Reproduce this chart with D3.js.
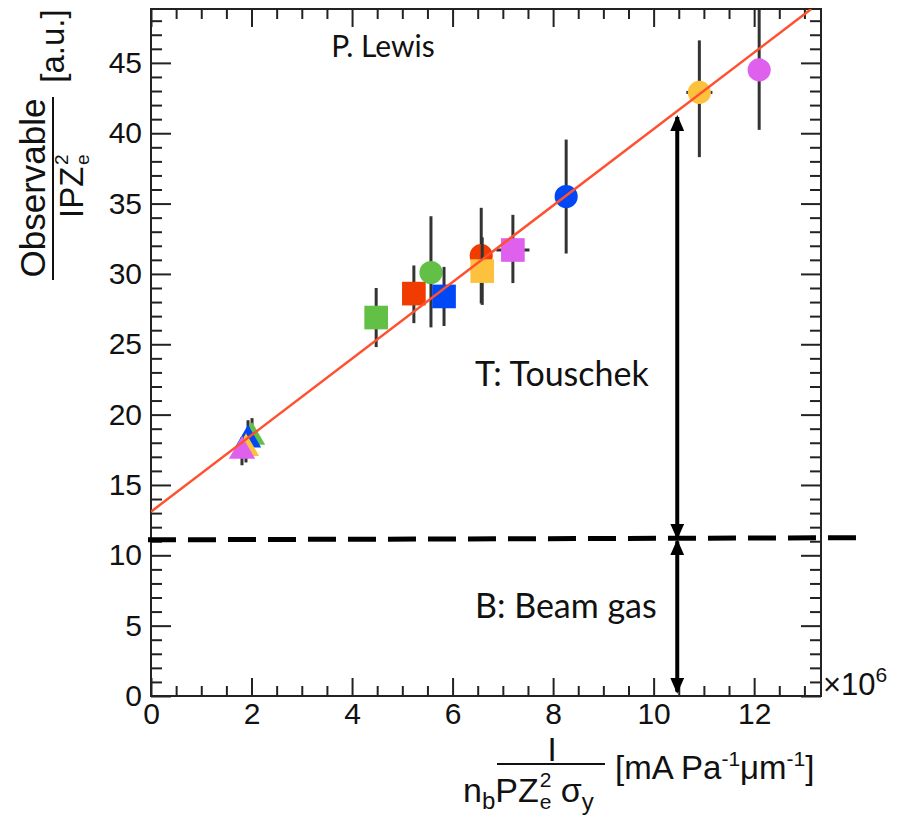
<!DOCTYPE html>
<html>
  <head>
    <title>Observable vs I / (nb P Ze^2 sigma_y)</title>
    <script src="https://d3js.org/d3.v7.min.js" charset="utf-8"></script>
    <style type="text/css">
      body { margin: 0; background: #fff; }
      .tick text { font-family: "Liberation Sans", Arial, sans-serif; font-size: 30px; fill: #111; }
      .axis path { display: none; }
      .axis line { stroke: #222; stroke-width: 2; }
      .note { font-family: Lato, "Open Sans", sans-serif; font-size: 34px; fill: #111; }
      .title { font-family: "Liberation Sans", Arial, sans-serif; fill: #111; }
    </style>
  </head>

  <body>
    <script type="text/javascript">

    // Data points (x in units of 1e6)
    var pointX     = [4.48, 5.23, 5.57, 5.83, 6.57, 6.59, 7.20, 8.26, 10.91, 12.10, 2.01, 1.93, 1.89, 1.81];
    var pointY     = [26.9, 28.6, 30.1, 28.4, 31.3, 30.2, 31.7, 35.5, 42.9, 44.5, 18.4, 18.2, 17.6, 17.4];
    var pointErrUp = [2.1, 2.0, 4.0, 2.1, 3.4, 2.4, 2.5, 4.05, 3.7, 4.26, 1.35, 1.4, 1.0, 1.0];
    var pointErrDn = [2.1, 2.1, 3.9, 2.1, 3.4, 2.4, 2.35, 4.05, 4.6, 4.26, 1.2, 1.2, 1.0, 1.0];
    var pointXErr  = [0, 0, 0, 0, 0, 0, 0.33, 0, 0.26, 0, 0, 0, 0, 0];
    var pointShape = ["square", "square", "circle", "square", "circle", "square", "square",
                      "circle", "circle", "circle", "triangle", "triangle", "triangle", "triangle"];
    var pointGroup = ["green", "red", "green", "blue", "red", "yellow", "magenta",
                      "blue", "yellow", "magenta", "green", "blue", "yellow", "magenta"];

    // Axis ticks
    var xMajorTicks = [0, 2, 4, 6, 8, 10, 12];
    var yMajorTicks = [0, 5, 10, 15, 20, 25, 30, 35, 40, 45];

    // Fit line and annotation levels
    var fitIntercept = 13.1;
    var fitSlope = 2.72;
    var beamGasLevel = 11.1;
    var arrowX = 10.47;
    var touschekTop = 41.15;

    // Colours
    var groupColor = {
      green: "#62c046", red: "#f03c00", blue: "#0048f5",
      yellow: "#fdc23d", magenta: "#e060ee"
    };

    // Setup size
    var width = 901;
    var height = 818;
    var frame = {left: 151, right: 821, top: 9, bottom: 696};

    var svg = d3.select("body")
        .append("svg")
        .attr("width", width)
        .attr("height", height);

    var x = d3.scaleLinear().domain([0, 13.33]).range([frame.left, frame.right]);
    var y = d3.scaleLinear().domain([0, 48.83]).range([frame.bottom, frame.top]);

    var xMinor = d3.range(0, 13.3, 0.5).filter(function(d) { return d % 2 !== 0; });
    var yMinor = d3.range(0, 49, 1).filter(function(d) { return d % 5 !== 0; });

    svg.append("defs").append("clipPath").attr("id", "plotclip")
      .append("rect")
        .attr("x", frame.left).attr("y", frame.top)
        .attr("width", frame.right - frame.left)
        .attr("height", frame.bottom - frame.top);

    // Axes (ROOT style, ticks inward)
    function addAxis(axis, tx, ty) {
      svg.append("g").attr("class", "axis")
          .attr("transform", "translate(" + tx + "," + ty + ")")
          .call(axis);
    }
    addAxis(d3.axisLeft(y).tickValues(yMajorTicks).tickSizeInner(-20).tickSizeOuter(0).tickPadding(9), frame.left, 0);
    addAxis(d3.axisLeft(y).tickValues(yMinor).tickSize(-11).tickFormat(""), frame.left, 0);
    addAxis(d3.axisRight(y).tickValues(yMajorTicks).tickSize(-20).tickFormat(""), frame.right, 0);
    addAxis(d3.axisRight(y).tickValues(yMinor).tickSize(-11).tickFormat(""), frame.right, 0);
    addAxis(d3.axisBottom(x).tickValues(xMajorTicks).tickSizeInner(-18).tickSizeOuter(0).tickPadding(7), 0, frame.bottom);
    addAxis(d3.axisBottom(x).tickValues(xMinor).tickSize(-10).tickFormat(""), 0, frame.bottom);
    addAxis(d3.axisTop(x).tickValues(xMajorTicks).tickSize(-18).tickFormat(""), 0, frame.top);
    addAxis(d3.axisTop(x).tickValues(xMinor).tickSize(-10).tickFormat(""), 0, frame.top);

    // Frame
    svg.append("rect")
        .attr("x", frame.left).attr("y", frame.top)
        .attr("width", frame.right - frame.left)
        .attr("height", frame.bottom - frame.top)
        .style("fill", "none")
        .style("stroke", "#222")
        .style("stroke-width", 2);

    // Points
    var idx = d3.range(pointX.length);
    var plot = svg.append("g").attr("clip-path", "url(#plotclip)");

    var symbolType = {square: d3.symbolSquare, circle: d3.symbolCircle, triangle: d3.symbolTriangle};
    var symbolSize = {square: 560, circle: 420, triangle: 300};

    idx.forEach(function(i) {
      var g = plot.append("g");
      // Error bars
      g.append("line")
          .attr("x1", x(pointX[i])).attr("x2", x(pointX[i]))
          .attr("y1", y(pointY[i] + pointErrUp[i]))
          .attr("y2", y(pointY[i] - pointErrDn[i]))
          .style("stroke", "#333").style("stroke-width", 3);
      if (pointXErr[i] > 0) {
        g.append("line")
            .attr("x1", x(pointX[i] - pointXErr[i])).attr("x2", x(pointX[i] + pointXErr[i]))
            .attr("y1", y(pointY[i])).attr("y2", y(pointY[i]))
            .style("stroke", "#333").style("stroke-width", 3);
      }
      g.append("path")
          .attr("transform", "translate(" + x(pointX[i]) + "," + y(pointY[i]) + ")")
          .attr("d", d3.symbol().type(symbolType[pointShape[i]]).size(symbolSize[pointShape[i]])())
          .style("fill", groupColor[pointGroup[i]]);
    });

    // Fit line
    var xEnd = (48.83 - fitIntercept) / fitSlope;
    plot.append("line")
        .attr("x1", x(0)).attr("y1", y(fitIntercept))
        .attr("x2", x(xEnd)).attr("y2", y(fitIntercept + fitSlope * xEnd))
        .style("stroke", "#ff5030")
        .style("stroke-width", 2.5);

    // Beam gas level (dashed)
    svg.append("line")
        .attr("x1", x(-0.06)).attr("x2", x(14.2))
        .attr("y1", y(beamGasLevel)).attr("y2", y(beamGasLevel + 0.15))
        .style("stroke", "#000")
        .style("stroke-width", 5)
        .style("stroke-dasharray", "28,12");

    // Double headed arrows
    var defs = svg.select("defs");
    defs.append("marker").attr("id", "ahead")
        .attr("viewBox", "0 0 16 14").attr("refX", 14).attr("refY", 7)
        .attr("markerUnits", "userSpaceOnUse")
        .attr("markerWidth", 16).attr("markerHeight", 14)
        .attr("orient", "auto-start-reverse")
      .append("path").attr("d", "M0,0 L16,7 L0,14 Z").style("fill", "#000");

    function arrow(v0, v1) {
      svg.append("line")
          .attr("x1", x(arrowX)).attr("x2", x(arrowX))
          .attr("y1", y(v0)).attr("y2", y(v1))
          .style("stroke", "#000").style("stroke-width", 4)
          .attr("marker-start", "url(#ahead)")
          .attr("marker-end", "url(#ahead)");
    }
    arrow(touschekTop, beamGasLevel + 0.15);
    arrow(beamGasLevel - 0.1, 0.3);

    // Notes
    svg.append("text").attr("class", "note").attr("x", 383).attr("y", 57)
        .attr("text-anchor", "middle").style("font-size", "30px").text("P. Lewis");
    svg.append("text").attr("class", "note").attr("x", 475).attr("y", 386).text("T: Touschek");
    svg.append("text").attr("class", "note").attr("x", 475).attr("y", 618).text("B: Beam gas");

    // x10^6 multiplier
    var mult = svg.append("text").attr("class", "title")
        .attr("x", 823).attr("y", 695).style("font-size", "31px");
    mult.append("tspan").text("\u00d710");
    mult.append("tspan").attr("dy", -13).style("font-size", "21px").text("6");

    // Y axis title (rotated; local x = -screenY, local y = screenX)
    var yt = svg.append("g").attr("transform", "rotate(-90)");
    yt.append("text").attr("class", "title").attr("x", -188).attr("y", 45)
        .attr("text-anchor", "middle").style("font-size", "35px").text("Observable");
    yt.append("line").attr("x1", -97).attr("x2", -280).attr("y1", 53).attr("y2", 53)
        .style("stroke", "#111").style("stroke-width", 2);
    yt.append("text").attr("class", "title").attr("x", -218).attr("y", 83)
        .style("font-size", "33px").text("IPZ");
    yt.append("text").attr("class", "title").attr("x", -165).attr("y", 68)
        .style("font-size", "19px").text("2");
    yt.append("text").attr("class", "title").attr("x", -165).attr("y", 89)
        .style("font-size", "19px").text("e");
    yt.append("text").attr("class", "title").attr("x", -46).attr("y", 64)
        .attr("text-anchor", "middle").style("font-size", "33px").text("[a.u.]");

    // X axis title
    svg.append("text").attr("class", "title").attr("x", 552).attr("y", 761)
        .attr("text-anchor", "middle").style("font-size", "33px").text("I");
    svg.append("line").attr("x1", 497).attr("x2", 605).attr("y1", 764).attr("y2", 764)
        .style("stroke", "#111").style("stroke-width", 2);
    var den = svg.append("text").attr("class", "title").attr("x", 463).attr("y", 802)
        .style("font-size", "34px");
    den.append("tspan").text("n");
    den.append("tspan").attr("dy", 7).style("font-size", "24px").text("b");
    den.append("tspan").attr("dy", -7).text("PZ");
    var zEnd = den.node().getComputedTextLength() + 463;
    svg.append("text").attr("class", "title").attr("x", zEnd + 1).attr("y", 787)
        .style("font-size", "21px").text("2");
    svg.append("text").attr("class", "title").attr("x", zEnd + 1).attr("y", 809)
        .style("font-size", "21px").text("e");
    var sig = svg.append("text").attr("class", "title").attr("x", zEnd + 22).attr("y", 802)
        .style("font-size", "34px");
    sig.append("tspan").text("\u03c3");
    sig.append("tspan").attr("dy", 8).style("font-size", "24px").text("y");

    var unit = svg.append("text").attr("class", "title").attr("x", 615).attr("y", 779)
        .style("font-size", "33px");
    unit.append("tspan").text("[mA Pa");
    unit.append("tspan").attr("dy", -13).style("font-size", "21px").text("-1");
    unit.append("tspan").attr("dy", 13).text("\u03bcm");
    unit.append("tspan").attr("dy", -13).style("font-size", "21px").text("-1");
    unit.append("tspan").attr("dy", 13).text("]");

    </script>
  </body>

</html>
